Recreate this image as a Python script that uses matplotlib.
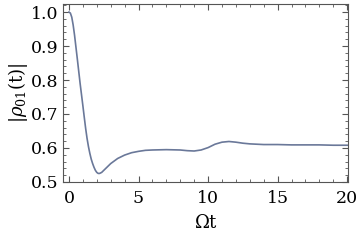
import numpy as np
import matplotlib.pyplot as plt
from matplotlib.ticker import MultipleLocator

# values
t = [0, 0.1, 0.2, 0.3, 0.4, 0.5, 0.6, 0.7, 0.8, 0.9, 1.0, 1.1, 1.2, 1.3, 1.4,
     1.5, 1.6, 1.7, 1.8, 1.9, 2.0, 2.1, 2.2, 2.35, 2.5, 2.75, 3.0, 3.5, 4.0,
     4.5, 5.0, 5.5, 6.0, 7.0, 8.0, 8.5, 9.0, 9.5, 10.0, 10.5, 11.0, 11.5,
     12.0, 12.5, 13.0, 14.0, 15.0, 16.0, 17.0, 18.0, 19.0, 20.0]
rho = [1.000, 0.997, 0.985, 0.962, 0.932, 0.897, 0.862, 0.826, 0.790, 0.757,
       0.724, 0.690, 0.657, 0.628, 0.604, 0.584, 0.567, 0.554, 0.543, 0.534,
       0.528, 0.525, 0.525, 0.528, 0.534, 0.544, 0.554, 0.569, 0.579,
       0.586, 0.590, 0.593, 0.594, 0.595, 0.594, 0.592, 0.591, 0.594, 0.601,
       0.611, 0.617, 0.619, 0.617, 0.614, 0.612, 0.610, 0.610, 0.609, 0.609,
       0.609, 0.608, 0.608]

plt.rcParams['font.family'] = 'DejaVu Serif'
plt.rcParams['mathtext.fontset'] = 'dejavuserif'

fig = plt.figure(figsize=(3.6, 2.4), dpi=100)
ax = fig.add_axes([0.175, 0.242, 0.792, 0.741])

ax.plot(t, rho, color='#6a7899', lw=1.2)

ax.set_xlim(-0.43, 20.07)
ax.set_ylim(0.5, 1.0235)
ax.xaxis.set_major_locator(MultipleLocator(5))
ax.xaxis.set_minor_locator(MultipleLocator(1))
ax.yaxis.set_minor_locator(MultipleLocator(0.02))
ax.set_yticks([0.5, 0.6, 0.7, 0.8, 0.9, 1.0])
ax.set_yticklabels(['0.5', '0.6', '0.7', '0.8', '0.9', '1.0'])

ax.tick_params(which='both', direction='in', top=True, right=True,
               color='#555555', labelsize=12.5)
ax.tick_params(which='major', length=4.5, width=0.8)
ax.tick_params(which='minor', length=2.5, width=0.6)
ax.tick_params(axis='x', pad=6)
ax.tick_params(axis='y', pad=3)
for s in ax.spines.values():
    s.set_color('#555555')
    s.set_linewidth(0.8)

ax.set_xlabel(r'$\Omega\mathrm{t}$', fontsize=13, labelpad=5)
ax.set_ylabel(r'$|\rho_{01}(\mathrm{t})|$', fontsize=13, labelpad=1)

plt.savefig('out.png', dpi=100)
